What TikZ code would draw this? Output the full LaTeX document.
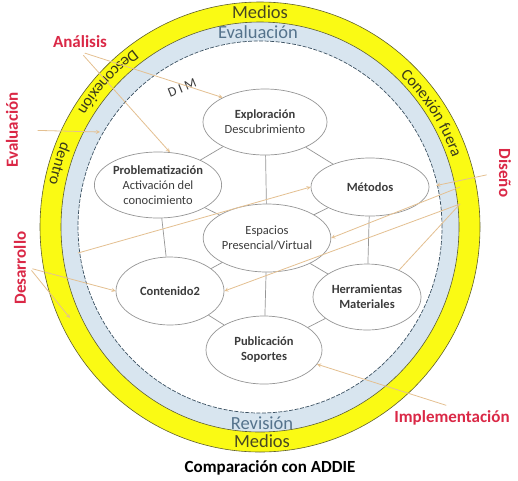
\documentclass[tikz,border=0pt]{standalone}
\usepackage{fontspec}
\setmainfont{Carlito}
\usetikzlibrary{positioning}
\usetikzlibrary{arrows,shapes}
\usetikzlibrary{decorations.text}
\definecolor{ringyellow}{RGB}{250,250,20}
\definecolor{ringblue}{RGB}{216,229,239}
\definecolor{ringline}{RGB}{95,95,45}
\definecolor{ringtext}{RGB}{85,115,140}
\definecolor{bubbleline}{RGB}{150,150,150}
\definecolor{bubbletext}{RGB}{60,60,60}
\definecolor{arrowtan}{RGB}{228,192,145}
\definecolor{labelred}{RGB}{218,40,70}
\tikzstyle{bubble}=[ellipse,draw=bubbleline,line width=0.7pt,fill=white,inner sep=0pt,text=bubbletext,align=center,font=\fontsize{12.5}{15}\selectfont]
\tikzstyle{link}=[draw=bubbleline,line width=0.7pt]
\tikzstyle{pointer}=[draw=arrowtan,line width=0.8pt,->,>=stealth]
\tikzstyle{plainpointer}=[draw=arrowtan,line width=0.8pt]
\tikzstyle{phase}=[text=labelred,font=\fontsize{17}{20}\selectfont\bfseries]
\tikzstyle{ringlabel}=[font=\fontsize{18.5}{20}\selectfont]
\begin{document}
\begin{tikzpicture}[x=1pt,y=1pt]
  \useasboundingbox (0,0) rectangle (518,-480);
  \coordinate (cen) at (260,-227);

    % First we draw the rings
    \draw[ringline,fill=ringyellow,line width=0.6pt] (cen) ellipse[x radius=220,y radius=225];
    \draw[ringline,fill=ringblue,line width=0.6pt] (cen) ellipse[x radius=199,y radius=205];
    \draw[ringtext!70!black,fill=white,line width=0.7pt,dash pattern=on 4pt off 1.5pt] (cen) ellipse[x radius=182,y radius=186];

    \node[ringlabel,text=ringline!75!black] (medtop) at (260,-12) {Medios};
    \node[ringlabel,text=ringtext] (evatop) at (258,-32) {Evaluación};
    \node[ringlabel,text=ringtext] (revbot) at (262,-423) {Revisión};
    \node[ringlabel,text=ringline!75!black] (medbot) at (262,-441) {Medios};

    % Texts that follow the yellow ring
    \path[shift={(260,-227)},decorate,decoration={text along path,text align=center,
        text={|\fontsize{16}{18}\selectfont\color{ringline!60!black}|Conexión fuera}}]
      (50:204 and 209) arc[start angle=50,end angle=16,x radius=204,y radius=209];
    \path[shift={(260,-227)},decorate,decoration={text along path,text align=center,
        text={|\fontsize{16}{18}\selectfont\color{ringline!60!black}|Desconexión}}]
      (124:215 and 220) arc[start angle=124,end angle=150,x radius=215,y radius=220];
    \path[shift={(260,-227)},decorate,decoration={text along path,text align=center,
        text={|\fontsize{16}{18}\selectfont\color{ringline!60!black}|dentro}}]
      (155:215 and 220) arc[start angle=155,end angle=171,x radius=215,y radius=220];

    \node[rotate=22,text=bubbletext,font=\fontsize{13.5}{15}\selectfont] (dim) at (182,-88) {D I M};

    % Then the vertices of the model
    \foreach \pos/\name/\w/\h/\txt in {{(265,-122)/exp/124/66/{\textbf{Exploración}\\Descubrimiento}},
        {(158,-185)/prob/126/66/{\textbf{Problematización}\\Activación del\\conocimiento}},
        {(370,-187)/met/118/58/{\textbf{Métodos}}},
        {(267,-238)/esp/120/68/{Espacios\\Presencial/Virtual}},
        {(170,-291)/cont/108/68/{\textbf{Contenido2}}},
        {(367,-297)/herr/108/66/{\textbf{Herramientas}\\\textbf{Materiales}}},
        {(264,-350)/pub/116/68/{\textbf{Publicación}\\\textbf{Soportes}}}}
        \node[bubble,minimum width=\w pt,minimum height=\h pt] (\name) at \pos {\txt};

    % Connect vertices with edges
  \foreach \source/ \dest in {exp/esp, exp/prob, exp/met, prob/esp, prob/cont, met/esp, met/herr, esp/cont, esp/herr, esp/pub, cont/pub, herr/pub}
          \path[link] (\source) -- (\dest);

    % ADDIE phases
  \node[phase] (ana) at (80,-42) {Análisis};
  \node[phase,rotate=90] (evl) at (12,-130) {Evaluación};
  \node[phase,rotate=90] (des) at (20,-268) {Desarrollo};
  \node[phase,rotate=-90] (dis) at (505,-173) {Diseño};
  \node[phase] (imp) at (452,-418) {Implementación};
  \node[font=\fontsize{17}{20}\selectfont\bfseries] (title) at (270,-468) {Comparación con ADDIE};

    % Arrows from the phases
  \coordinate (evlend) at (100,-132);
  \coordinate (desend) at (70,-318);
  \coordinate (metsrc) at (78,-253);
  \coordinate (dsrc) at (460,-187);
  \coordinate (hsrc) at (460,-204);
  \path[pointer,shorten <=5pt] (ana.south) -- (prob.70);
  \path[pointer,shorten <=5pt] (ana.south) -- (exp.150);
  \path[pointer,shorten <=16pt] (evl.south) -- (evlend);
  \path[pointer,shorten <=3pt] (des.south) -- (cont.west);
  \path[pointer,shorten <=3pt] (des.south) -- (desend);
  \path[pointer] (metsrc) -- (met.west);
  \path[pointer,shorten <=9pt,shorten >=7pt] (dis.south) -- (met.east);
  \path[pointer] (dsrc) -- (esp.east);
  \path[pointer] (hsrc) -- (cont.east);
  \path[plainpointer] (hsrc) -- (herr.40);
  \path[pointer,shorten <=6pt] (imp.north) -- (pub.-15);
\end{tikzpicture}
\end{document}
